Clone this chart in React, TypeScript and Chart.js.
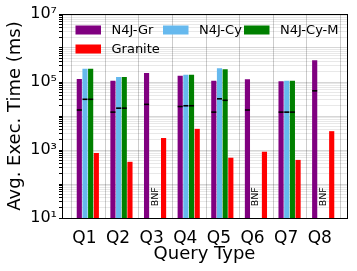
import React, { useEffect, useRef } from "react";
import { Chart, registerables } from "chart.js";
Chart.register(...registerables);

// ---- data ----
const categories = ["Q1", "Q2", "Q3", "Q4", "Q5", "Q6", "Q7", "Q8"];
const seriesNames = ["N4J-Gr", "N4J-Cy", "N4J-Cy-M", "Granite"];
const n4jGr = [1.2e5, 1.07e5, 1.8e5, 1.5e5, 1.07e5, 1.17e5, 1.03e5, 4.3e5];
const n4jCy = [2.4e5, 1.38e5, null, 1.6e5, 2.5e5, null, 1.07e5, null];
const n4jCyM = [2.4e5, 1.38e5, null, 1.6e5, 2.3e5, null, 1.07e5, null];
const granite = [800, 440, 2200, 4100, 580, 870, 500, 3500];
const n4jGrMedian = [1.5e4, 1.3e4, 2.2e4, 1.9e4, 1.3e4, 1.5e4, 1.3e4, 5.5e4];
const n4jCyMedian = [3.1e4, 1.7e4, null, 2.0e4, 3.2e4, null, 1.3e4, null];
const n4jCyMMedian = [3.1e4, 1.7e4, null, 2.0e4, 2.9e4, null, 1.3e4, null];
const bnfText = "BNF";
const bnfCategories = ["Q3", "Q6", "Q8"];
const yTickValues = [1e1, 1e2, 1e3, 1e4, 1e5, 1e6, 1e7];
const yTickLabels: Record<number, string> = { 10: "10¹", 1000: "10³", 100000: "10⁵", 10000000: "10⁷" };
const xTitle = "Query Type";
const yTitle = "Avg. Exec. Time (ms)";

// ---- styles ----
const colors = ["#800080", "#66b9ee", "#008000", "#ff0000"];
const offsets = [-0.253, -0.084, 0.084, 0.253];
const FONT = "'DejaVu Sans', sans-serif";

function toPoints(vals: (number | null)[], off: number) {
  const pts: { x: number; y: number }[] = [];
  vals.forEach((v, i) => {
    if (v != null) pts.push({ x: i + off, y: v });
  });
  return pts;
}

export default function App() {
  const ref = useRef<HTMLCanvasElement | null>(null);
  useEffect(() => {
    document.body.style.margin = "0";
    const canvas = ref.current!;
    const seriesVals = [n4jGr, n4jCy, n4jCyM, granite];
    const medianVals = [n4jGrMedian, n4jCyMedian, n4jCyMMedian];

    const barSets = seriesVals.map((vals, k) => ({
      type: "bar" as const,
      label: seriesNames[k],
      data: toPoints(vals, offsets[k]),
      backgroundColor: colors[k],
      borderWidth: 0,
      barThickness: 4.5,
      grouped: false,
      order: 2,
    }));
    const medSets = medianVals.map((vals, k) => ({
      type: "scatter" as const,
      label: "median-" + seriesNames[k],
      data: toPoints(vals, offsets[k]),
      pointStyle: "line",
      pointRadius: 2.5,
      borderColor: "#000",
      backgroundColor: "#000",
      borderWidth: 1.6,
      showLine: false,
      order: 1,
    }));

    const gridPlugin = {
      id: "vgrid",
      beforeDatasetsDraw(chart: any) {
        const { ctx, chartArea } = chart;
        const xs = chart.scales.x;
        ctx.save();
        ctx.strokeStyle = "rgba(0,0,0,0.2)";
        ctx.lineWidth = 1;
        for (let i = 0; i <= categories.length; i++) {
          const px = Math.round(xs.getPixelForValue(i - 0.5)) + 0.5;
          ctx.beginPath();
          ctx.moveTo(px, chartArea.top);
          ctx.lineTo(px, chartArea.bottom);
          ctx.stroke();
        }
        ctx.restore();
      },
    };

    const overlayPlugin = {
      id: "overlay",
      afterDraw(chart: any) {
        const { ctx, chartArea } = chart;
        const xs = chart.scales.x;
        const ys = chart.scales.y;
        ctx.save();
        // frame
        ctx.strokeStyle = "#000";
        ctx.lineWidth = 1;
        ctx.strokeRect(
          Math.round(chartArea.left) + 0.5,
          Math.round(chartArea.top) + 0.5,
          Math.round(chartArea.right - chartArea.left),
          Math.round(chartArea.bottom - chartArea.top)
        );
        // BNF labels
        ctx.fillStyle = "#000";
        ctx.font = `9.5px ${FONT}`;
        ctx.textAlign = "left";
        ctx.textBaseline = "middle";
        bnfCategories.forEach((c) => {
          const i = categories.indexOf(c);
          const px = xs.getPixelForValue(i);
          const py = ys.getPixelForValue(22);
          ctx.save();
          ctx.translate(px, py);
          ctx.rotate(-Math.PI / 2);
          ctx.fillText(bnfText, 0, 0);
          ctx.restore();
        });
        // legend
        const left = chartArea.left;
        const top = chartArea.top;
        const colX = [left + 13.5, left + 101, left + 182];
        const rowY = [top + 16, top + 35];
        ctx.font = `13px ${FONT}`;
        ctx.textBaseline = "middle";
        seriesNames.forEach((name, k) => {
          const col = k % 3;
          const row = Math.floor(k / 3);
          const sx = colX[col];
          const sy = rowY[row];
          ctx.fillStyle = colors[k];
          ctx.fillRect(sx, sy - 4.5, 25.5, 9);
          ctx.fillStyle = "#000";
          ctx.fillText(name, sx + 36, sy + 0.5);
        });
        ctx.restore();
      },
    };

    const chart = new Chart(canvas, {
      type: "bar",
      data: { datasets: [...barSets, ...medSets] as any },
      options: {
        animation: false,
        responsive: false,
        maintainAspectRatio: false,
        layout: { padding: { top: 14, right: 10, left: 0, bottom: 0 } },
        plugins: { legend: { display: false }, tooltip: { enabled: false } },
        scales: {
          x: {
            type: "linear",
            min: -0.768,
            max: 7.708,
            offset: false,
            grid: { display: false },
            border: { display: true, color: "#000", width: 1 },
            afterBuildTicks: (scale: any) => {
              scale.ticks = categories.map((_, i) => ({ value: i - 0.1 }));
            },
            afterFit: (scale: any) => {
              scale.height = 53;
            },
            ticks: {
              autoSkip: false,
              maxRotation: 0,
              padding: 2,
              color: "#000",
              font: { family: FONT, size: 17 },
              callback: (_v: any, idx: number) => categories[idx],
            },
            title: {
              display: true,
              text: xTitle,
              color: "#000",
              font: { family: FONT, size: 18 },
              padding: { top: 0, bottom: 6 },
            },
          },
          y: {
            type: "logarithmic",
            min: 10,
            max: 1e7,
            afterBuildTicks: (scale: any) => {
              const t: { value: number }[] = [];
              for (let d = 0; d < yTickValues.length - 1; d++) {
                for (let m = 1; m <= 9; m++) t.push({ value: yTickValues[d] * m });
              }
              t.push({ value: yTickValues[yTickValues.length - 1] });
              scale.ticks = t;
            },
            afterFit: (scale: any) => {
              scale.width = 62;
            },
            border: { display: true, color: "#000", width: 1 },
            grid: {
              color: (c: any) => {
                const v = c.tick ? c.tick.value : 0;
                const lg = Math.log10(v);
                return Math.abs(lg - Math.round(lg)) < 1e-6 ? "rgba(0,0,0,0.16)" : "rgba(0,0,0,0.09)";
              },
              tickColor: "#000",
              tickLength: 3,
              lineWidth: 1,
            },
            ticks: {
              autoSkip: false,
              padding: 2,
              color: "#000",
              font: { family: FONT, size: 16 },
              callback: (v: any) => yTickLabels[Math.round(Number(v))] ?? "",
            },
            title: {
              display: true,
              text: yTitle,
              color: "#000",
              font: { family: FONT, size: 18 },
              padding: { top: 5, bottom: 0 },
            },
          },
        },
      } as any,
      plugins: [gridPlugin, overlayPlugin],
    });
    return () => chart.destroy();
  }, []);
  return (
    <div style={{ width: 357, height: 271 }}>
      <canvas ref={ref} width={357} height={271} style={{ display: "block" }} />
    </div>
  );
}
